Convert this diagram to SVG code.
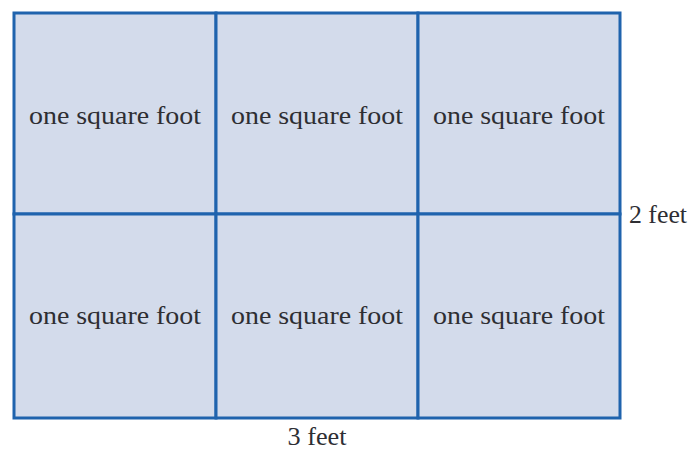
<svg xmlns="http://www.w3.org/2000/svg" width="693" height="451" viewBox="0 0 693 451">
<style>
.cell{fill:#d3dbeb;stroke:#1f63ad;stroke-width:3}
.t{font-family:"Liberation Serif","Times New Roman",serif;font-size:26px;fill:#2e2e33;text-anchor:middle}
.lbl{font-family:"Liberation Serif","Times New Roman",serif;font-size:26px;fill:#2e2e33}
</style>
<rect width="693" height="451" fill="#ffffff"/>
<g id="cell-1-1"><rect class="cell" x="14" y="13" width="202" height="201"/><text class="t" x="115" y="124" textLength="172" lengthAdjust="spacingAndGlyphs">one square foot</text></g>
<g id="cell-1-2"><rect class="cell" x="216" y="13" width="202" height="201"/><text class="t" x="317" y="124" textLength="172" lengthAdjust="spacingAndGlyphs">one square foot</text></g>
<g id="cell-1-3"><rect class="cell" x="418" y="13" width="202" height="201"/><text class="t" x="519" y="124" textLength="172" lengthAdjust="spacingAndGlyphs">one square foot</text></g>
<g id="cell-2-1"><rect class="cell" x="14" y="214" width="202" height="204"/><text class="t" x="115" y="324" textLength="172" lengthAdjust="spacingAndGlyphs">one square foot</text></g>
<g id="cell-2-2"><rect class="cell" x="216" y="214" width="202" height="204"/><text class="t" x="317" y="324" textLength="172" lengthAdjust="spacingAndGlyphs">one square foot</text></g>
<g id="cell-2-3"><rect class="cell" x="418" y="214" width="202" height="204"/><text class="t" x="519" y="324" textLength="172" lengthAdjust="spacingAndGlyphs">one square foot</text></g>
<g id="labels">
<text class="lbl" x="629" y="223" textLength="58" lengthAdjust="spacingAndGlyphs">2 feet</text>
<text class="t" x="317" y="445" font-size="25" textLength="59" lengthAdjust="spacingAndGlyphs">3 feet</text>
</g>
</svg>
